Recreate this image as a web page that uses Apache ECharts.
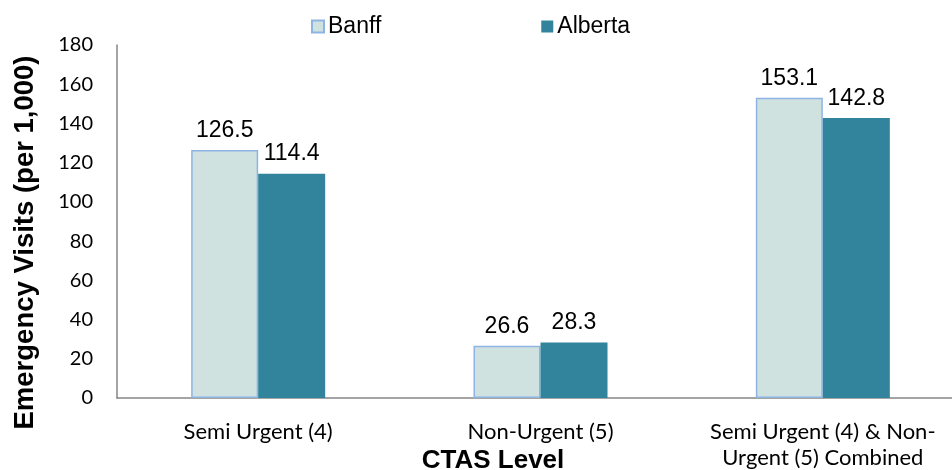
<!DOCTYPE html>
<html>
<head>
<meta charset="utf-8">
<script src="https://cdn.jsdelivr.net/npm/echarts@6/dist/echarts.min.js"></script>
<style>
  html, body { margin: 0; padding: 0; background: #fff; }
</style>
</head>
<body>
<div id="chart" style="width: 952px;height:470px;"></div>
<script>
// categories and values
const categories = ['Semi Urgent (4)', 'Non-Urgent (5)', 'Semi Urgent (4) & Non-\nUrgent (5) Combined'];
const banff = [126.5, 26.6, 153.1];
const alberta = [114.4, 28.3, 142.8];

let myChart = echarts.init(document.getElementById('chart'));

let labelStyle = {
  show: true,
  position: 'top',
  distance: 8,
  fontFamily: 'Liberation Sans, Arial',
  fontSize: 23,
  color: '#000'
};

let option = {
  animation: false,
  legend: {
    top: 10,
    left: 306,
    icon: 'rect',
    itemWidth: 12,
    itemHeight: 12,
    itemGap: 160,
    textStyle: {
      fontFamily: 'Liberation Sans, Arial',
      fontSize: 23,
      color: '#000',
      padding: [0, 0, 0, -1]
    },
    data: ['Banff', 'Alberta']
  },
  grid: {
    left: 117,
    right: -12,
    top: 45,
    bottom: 72,
    outerBoundsMode: 'none'
  },
  xAxis: {
    type: 'category',
    data: categories,
    name: 'CTAS Level',
    nameLocation: 'middle',
    nameGap: 50,
    nameMoveOverlap: false,
    nameTextStyle: {
      fontFamily: 'Liberation Sans, Arial',
      fontWeight: 'bold',
      fontSize: 26,
      color: '#000',
      padding: [0, 0, 0, -95]
    },
    axisLine: { lineStyle: { color: '#868686', width: 1.5 } },
    axisTick: { show: false },
    axisLabel: {
      interval: 0,
      fontFamily: 'Lato, Open Sans',
      fontSize: 22,
      color: '#000',
      margin: 21,
      lineHeight: 26
    }
  },
  yAxis: {
    type: 'value',
    min: 0,
    max: 180,
    interval: 20,
    name: 'Emergency Visits (per 1,000)',
    nameLocation: 'middle',
    nameGap: 78,
    nameMoveOverlap: false,
    nameTextStyle: {
      fontFamily: 'Liberation Sans, Arial',
      fontWeight: 'bold',
      fontSize: 27.5,
      color: '#000',
      padding: [0, 0, 0, -42]
    },
    axisLine: { show: true, lineStyle: { color: '#868686', width: 1.5 } },
    axisTick: { show: false },
    splitLine: { show: false },
    axisLabel: {
      fontFamily: 'Lato, Open Sans',
      fontSize: 20,
      color: '#000',
      margin: 24
    }
  },
  series: [
    {
      name: 'Banff',
      type: 'bar',
      barWidth: 67,
      barGap: '0%',
      itemStyle: {
        color: '#d0e2e0',
        borderColor: '#8eb4e3',
        borderWidth: 1.5
      },
      label: labelStyle,
      data: banff
    },
    {
      name: 'Alberta',
      type: 'bar',
      barWidth: 67,
      barGap: '0%',
      itemStyle: {
        color: '#31849b'
      },
      label: labelStyle,
      data: alberta
    }
  ]
};

myChart.setOption(option);
</script>
</body>
</html>
